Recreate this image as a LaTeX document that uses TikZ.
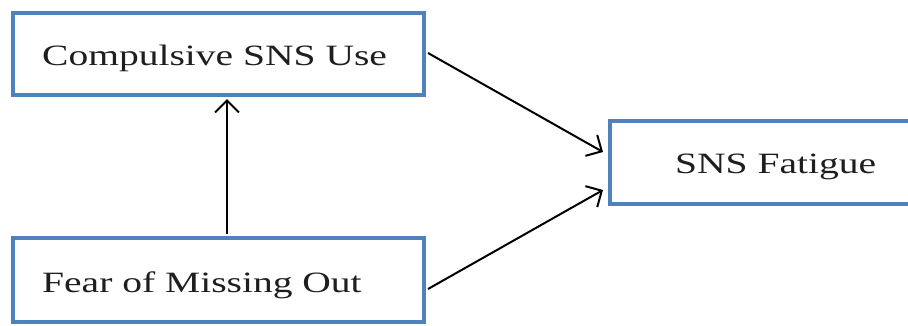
\documentclass[tikz,border=0pt]{standalone}
\usepackage{fontspec}
\setmainfont[FakeStretch=1.34]{Liberation Serif}
\usetikzlibrary{arrows.meta,positioning,calc}
\definecolor{boxblue}{RGB}{79,129,189}
\definecolor{txtgray}{RGB}{30,30,30}
\tikzset{
  boxnode/.style={draw=boxblue, line width=4pt, fill=white, inner sep=0pt},
  labelnode/.style={inner sep=0pt, text=txtgray, font=\fontsize{29.5}{32}\selectfont},
  arr/.style={line width=2pt, -{Straight Barb[length=12pt,width=24pt,line width=2pt]}}
}
\begin{document}
\begin{tikzpicture}[x=1pt,y=1pt]
\useasboundingbox (0,0) rectangle (908,-325);
\clip (0,0) rectangle (908,-325);
% boxes
\node[boxnode, minimum width=411pt, minimum height=82pt] (csu) at (218.5,-54) {};
\node[boxnode, minimum width=411pt, minimum height=84pt] (fomo) at (218.5,-280) {};
\node[boxnode, minimum width=330pt, minimum height=83pt] (sns) at (775,-162.5) {};
% labels
\node[labelnode, anchor=base west] (csuL) at (42,-65) {Compulsive SNS Use};
\node[labelnode, anchor=base west] (fomoL) at (42,-292) {Fear of Missing Out};
\node[labelnode, anchor=base west] (snsL) at (675,-173) {SNS Fatigue};
% connectors
\coordinate (fomoTop) at ([xshift=8.5pt]fomo.north);
\coordinate (csuBot) at ([xshift=8.5pt]csu.south);
\draw[arr] ([yshift=2pt]fomoTop) -- ([yshift=-2pt]csuBot);
\draw[arr] ([xshift=2pt,yshift=1pt]csu.east) -- ([xshift=-5pt,yshift=10.5pt]sns.west);
\draw[arr] ([xshift=2pt,yshift=-9pt]fomo.east) -- ([xshift=-5pt,yshift=-27.5pt]sns.west);
\end{tikzpicture}
\end{document}
